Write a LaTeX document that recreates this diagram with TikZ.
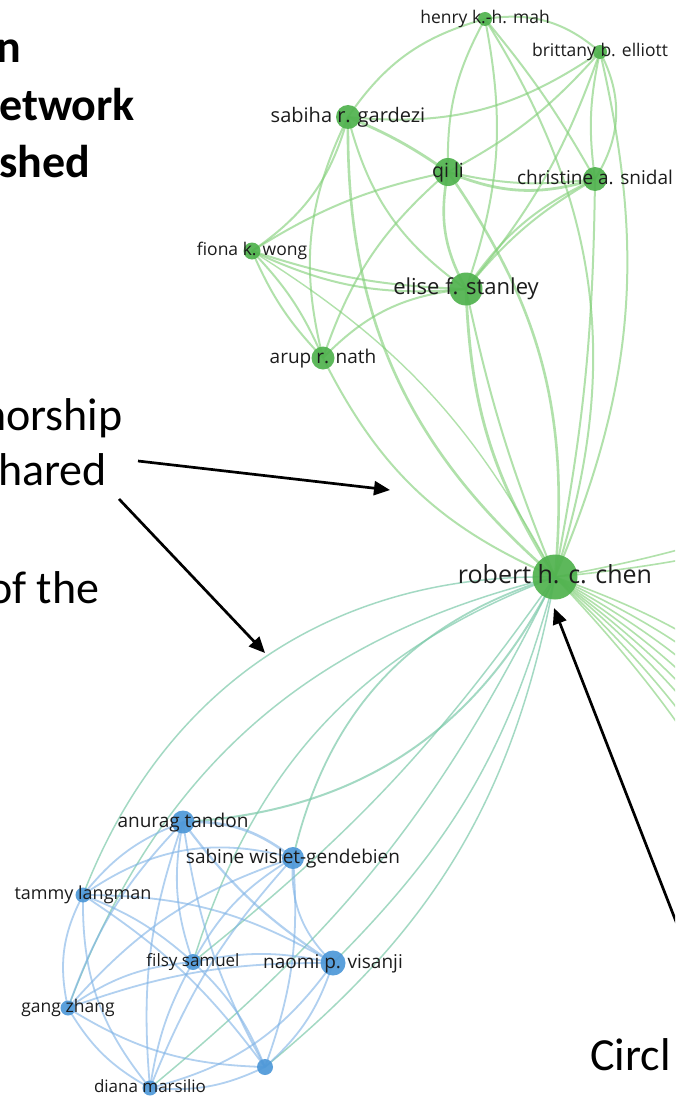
\documentclass[tikz,border=0pt]{standalone}
\usepackage{fontspec}
\setmainfont{Carlito}
\newfontfamily\labfont{Open Sans}
\usetikzlibrary{arrows.meta}
\definecolor{gnodec}{RGB}{80,178,78}
\definecolor{bnodec}{RGB}{78,152,216}
\definecolor{gedge}{RGB}{130,208,120}
\definecolor{bedge}{RGB}{125,178,230}
\definecolor{medge}{RGB}{125,202,170}
\definecolor{labc}{RGB}{28,28,28}
\begin{document}
\begin{tikzpicture}[x=1pt,y=-1pt,
 gn/.style={circle,fill=gnodec,draw=none,inner sep=0pt,opacity=0.92},
 bn/.style={circle,fill=bnodec,draw=none,inner sep=0pt,opacity=0.92},
 lab/.style={text=labc,inner sep=0pt,anchor=center,font=\labfont\fontsize{#1}{#1}\selectfont,text height={#1*0.535pt},text depth=0pt},
 ge/.style={draw=gedge,line width=2pt,opacity=0.62},
 be/.style={draw=bedge,line width=1.8pt,opacity=0.6},
 me/.style={draw=medge,line width=1.5pt,opacity=0.7},
 ann/.style={draw=black,line width=2.7pt,-{Triangle[length=16pt,width=14pt]}},
 bt/.style={anchor=base west,inner sep=0pt,font=\bfseries\fontsize{46}{46}\selectfont},
 rt/.style={anchor=base west,inner sep=0pt,font=\fontsize{46}{46}\selectfont},
]
\useasboundingbox (0,0) rectangle (675,1097);
\clip (0,0) rectangle (675,1097);
\fill[white] (0,0) rectangle (675,1097);

% green cluster positions
\coordinate (H) at (485,19);
\coordinate (B) at (600,52);
\coordinate (S) at (348,117);
\coordinate (Q) at (448,172);
\coordinate (C) at (595,179);
\coordinate (F) at (252,251);
\coordinate (E) at (466,289);
\coordinate (A) at (323,358);
\coordinate (R) at (555,577);
% blue cluster positions
\coordinate (An) at (183,822);
\coordinate (Sb) at (293,858);
\coordinate (T) at (83,895);
\coordinate (Fi) at (193,962);
\coordinate (Na) at (333,963);
\coordinate (Ga) at (68,1008);
\coordinate (U) at (265,1067);
\coordinate (Di) at (150,1088);
% off-picture ends
\coordinate (o1) at (820,503);
\coordinate (o2) at (830,524);
\coordinate (o3) at (800,716);
\coordinate (o4) at (800,746);
\coordinate (o5) at (800,777);
\coordinate (o6) at (800,808);
\coordinate (o7) at (800,838);
\coordinate (o8) at (800,869);
\coordinate (o9) at (800,910);
\coordinate (o10) at (800,951);

% green edges
\draw[ge] (H) to[bend left=25] (B);
\draw[ge] (H) to[bend right=20] (S);
\draw[ge] (H) to[bend right=15] (Q);
\draw[ge] (H) to[bend left=15] (E);
\draw[ge] (H) to[bend left=5] (C);
\draw[ge] (H) to[bend left=25] (R);
\draw[ge] (B) to[bend left=20] (S);
\draw[ge] (B) to[bend left=10] (Q);
\draw[ge] (B) to[bend left=30] (C);
\draw[ge] (B) to[bend right=10] (C);
\draw[ge] (B) to[bend left=10] (E);
\draw[ge] (B) to[bend left=18] (R);
\draw[ge,line width=2.8pt] (S) to[bend left=6] (Q);
\draw[ge] (S) to[bend right=20] (E);
\draw[ge,line width=2.6pt] (S) to[bend right=25] (R);
\draw[ge] (F) to[bend right=20] (S);
\draw[ge] (A) to[bend left=20] (S);
\draw[ge,line width=2.8pt] (Q) to[bend right=20] (C);
\draw[ge] (Q) to[bend right=10] (C);
\draw[ge,line width=2.6pt] (Q) to[bend right=20] (E);
\draw[ge,line width=2.6pt] (Q) to[bend left=20] (R);
\draw[ge] (F) to[bend left=10] (Q);
\draw[ge] (A) to[bend left=15] (Q);
\draw[ge] (C) to[bend right=10] (E);
\draw[ge] (C) to[bend right=15] (E);
\draw[ge] (C) to[bend left=5] (R);
\draw[ge] (F) to[bend right=15] (E);
\draw[ge] (F) to[bend right=8] (E);
\draw[ge] (F) to[bend left=10] (A);
\draw[ge] (F) to[bend right=10] (A);
\draw[ge,line width=1.4pt] (F) to[bend left=15] (R);
\draw[ge] (A) to[bend left=20] (E);
\draw[ge,line width=2.8pt] (E) to[bend right=15] (R);
\draw[ge] (E) to[bend right=5] (R);
\draw[ge] (A) to[bend right=20] (R);

% robert to the right (off picture)
\draw[ge,line width=1.6pt] (R) to[bend right=5] (o1);
\draw[ge,line width=1.6pt] (R) to[bend right=5] (o2);
\draw[ge,line width=1.6pt] (R) to[bend left=10] (o3);
\draw[ge,line width=1.6pt] (R) to[bend left=10] (o4);
\draw[ge,line width=1.6pt] (R) to[bend left=10] (o5);
\draw[ge,line width=1.6pt] (R) to[bend left=10] (o6);
\draw[ge,line width=1.6pt] (R) to[bend left=10] (o7);
\draw[ge,line width=1.6pt] (R) to[bend left=10] (o8);
\draw[ge,line width=1.6pt] (R) to[bend left=10] (o9);
\draw[ge,line width=1.6pt] (R) to[bend left=10] (o10);

% robert to blue cluster
\draw[me] (R) to[bend right=35] (T);
\draw[me,line width=2pt] (R) to[bend left=30] (An);
\draw[me,line width=1.8pt] (R) to[bend right=30] (Sb);
\draw[me] (R) to[bend right=28] (Ga);
\draw[me] (R) to[bend right=26] (Fi);
\draw[me] (R) to[bend left=8] (Fi);
\draw[me] (R) to[bend left=15] (Na);
\draw[me] (R) to[bend left=20] (U);
\draw[me] (R) to[bend left=12] (Di);

% blue edges
\draw[be,line width=2.6pt] (An) to[bend left=20] (Sb);
\draw[be] (T) to[bend left=15] (An);
\draw[be,line width=2.2pt] (An) to[bend right=10] (Na);
\draw[be] (An) to[bend right=10] (U);
\draw[be] (An) to[bend right=15] (Fi);
\draw[be] (An) to[bend right=12] (Di);
\draw[be] (Ga) to[bend left=12] (An);
\draw[be] (T) to[bend left=25] (Sb);
\draw[be] (Sb) to[bend right=25] (Na);
\draw[be] (Sb) to[bend right=15] (Fi);
\draw[be] (Sb) to[bend right=15] (Ga);
\draw[be] (Sb) to[bend right=10] (Di);
\draw[be] (Sb) to[bend left=12] (U);
\draw[be] (T) to[bend right=20] (Ga);
\draw[be] (T) to[bend right=20] (Di);
\draw[be] (T) to[bend left=10] (Fi);
\draw[be] (T) to[bend left=15] (Na);
\draw[be] (T) to[bend left=10] (U);
\draw[be] (Ga) to[bend left=10] (Na);
\draw[be] (Ga) to[bend right=15] (U);
\draw[be] (Ga) to[bend right=15] (Di);
\draw[be] (Ga) to[bend left=15] (Fi);
\draw[be] (Fi) to[bend left=12] (Na);
\draw[be] (Fi) to[bend right=10] (Di);
\draw[be] (Fi) to[bend left=12] (U);
\draw[be] (Na) to[bend left=15] (U);
\draw[be] (Na) to[bend left=20] (Di);
\draw[be] (U) to[bend left=15] (Di);

% green nodes
\node[gn,minimum size=14pt] (Hn) at (H) {};
\node[gn,minimum size=14pt] (Bn) at (B) {};
\node[gn,minimum size=24pt] (Sn) at (S) {};
\node[gn,minimum size=28pt] (Qn) at (Q) {};
\node[gn,minimum size=24pt] (Cn) at (C) {};
\node[gn,minimum size=17pt] (Fn) at (F) {};
\node[gn,minimum size=33pt] (En) at (E) {};
\node[gn,minimum size=23pt] (Anode) at (A) {};
\node[gn,minimum size=45pt] (Rn) at (R) {};
% blue nodes
\node[bn,minimum size=23pt] (Ann) at (An) {};
\node[bn,minimum size=22pt] (Sbn) at (Sb) {};
\node[bn,minimum size=15pt] (Tn) at (T) {};
\node[bn,minimum size=16pt] (Fin) at (Fi) {};
\node[bn,minimum size=25pt] (Nan) at (Na) {};
\node[bn,minimum size=15pt] (Gan) at (Ga) {};
\node[bn,minimum size=16pt] (Un) at (U) {};
\node[bn,minimum size=15pt] (Din) at (Di) {};

% labels
\node[lab=17.5] (Hl) at (H) {henry k.-h. mah};
\node[lab=17.5] (Bl) at (B) {brittany b. elliott};
\node[lab=20] (Sl) at (S) {sabiha r. gardezi};
\node[lab=19.5] (Ql) at (Q) {qi li};
\node[lab=19] (Cl) at (C) {christine a. snidal};
\node[lab=17.5] (Fl) at (F) {fiona k. wong};
\node[lab=22] (El) at (E) {elise f. stanley};
\node[lab=19] (Al) at (A) {arup r. nath};
\node[lab=25] (Rl) at (R) {robert h. c. chen};
\node[lab=19] (Anl) at (An) {anurag tandon};
\node[lab=19] (Sbl) at (Sb) {sabine wislet-gendebien};
\node[lab=18] (Tl) at (T) {tammy langman};
\node[lab=17] (Fil) at (Fi) {filsy samuel};
\node[lab=19] (Nal) at (Na) {naomi p. visanji};
\node[lab=17.5] (Gal) at (Ga) {gang zhang};
\node[lab=17] (Dil) at (Di) {diana marsilio};

% side text (cropped at the picture's edge, as in the reference)
\node[bt] (t1) at (-4,63) {n};
\node[bt] (t2) at (-1,121) {etwork};
\node[bt] (t3) at (-1,177) {shed};
\node[rt] (t4) at (-18,430) {horship};
\node[rt] (t5) at (-2,485) {hared};
\node[rt] (t6) at (-12,603) {of the};
\node[rt] (t7) at (590,1070) {Circl};

% annotation arrows
\coordinate (a1s) at (138,461);
\coordinate (a1e) at (390,490);
\coordinate (a2s) at (119,499);
\coordinate (a2e) at (265,653);
\coordinate (a3s) at (682,937);
\coordinate (a3e) at (554,608);
\draw[ann] (a1s) -- (a1e);
\draw[ann] (a2s) -- (a2e);
\draw[ann] (a3s) -- (a3e);
\end{tikzpicture}
\end{document}
